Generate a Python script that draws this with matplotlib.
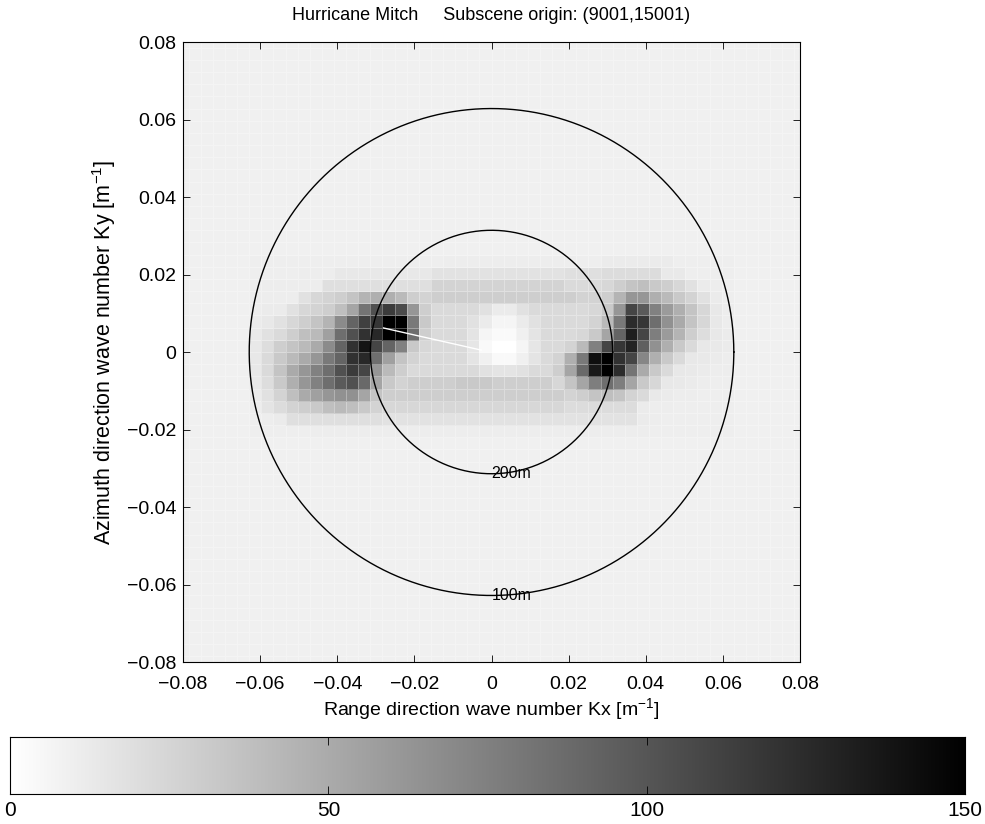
import numpy as np
import matplotlib.pyplot as plt
from matplotlib import ticker

plt.rcParams['font.family'] = ['Liberation Sans', 'DejaVu Sans']
plt.rcParams['mathtext.fontset'] = 'custom'
plt.rcParams['mathtext.rm'] = 'Liberation Sans'
plt.rcParams['mathtext.it'] = 'Liberation Sans'

## DATOS ===================================================

dk = 2 * np.pi / 2000          # paso del numero de onda [1/m]
cell_idx = np.arange(-26, 26)  # indice de celda (esquina inferior izquierda)
fondo = 9                      # nivel de fondo del espectro

# parche central: filas r = 7 .. -8 (de arriba a abajo), columnas c = -20 .. 19
patch_cols = np.arange(-20, 20)
patch_rows = np.arange(7, -9, -1)
patch = [
    [10]*16 + [11]*11 + [10]*2 + [12]*6 + [10]*5,
    [10]*4 + [11]*3 + [14]*7 + [14]*1 + [17]*11 + [19]*3 + [21]*5 + [13]*2 + [10]*4,
    [11]*6 + [19]*9 + [26]*11 + [22]*3 + [24, 29, 35, 38, 32, 29, 24, 18, 12, 11, 10],
    [11]*4 + [18, 24, 26, 29, 35, 44, 47, 47, 41, 29, 26] + [29]*12 + [26, 26, 29, 44, 62, 62, 47, 41, 32, 26, 18, 12, 10],
    [11, 12, 12, 18, 24, 26, 29, 38, 53, 82, 103, 115, 106, 62, 29, 22, 22, 22, 22, 18,
     12, 12, 18, 22, 22, 22, 22, 22, 24, 32, 62, 109, 97, 74, 59, 47, 35, 24, 14, 11],
    [12, 14, 18, 24, 29, 35, 44, 68, 91, 112, 118, 155, 150, 79, 32, 22, 22, 22, 18, 12,
     6, 6, 12, 18, 22, 22, 22, 22, 26, 41, 79, 124, 118, 85, 65, 50, 35, 24, 14, 11],
    [13, 18, 22, 29, 38, 41, 56, 85, 103, 121, 126, 150, 155, 85, 29, 22, 22, 22, 16, 6,
     3, 3, 9, 16, 22, 22, 22, 24, 32, 53, 91, 132, 109, 76, 59, 44, 29, 20, 14, 12],
    [14, 20, 29, 35, 41, 50, 68, 91, 121, 138, 109, 91, 74, 32, 24, 22, 22, 22, 15, 4,
     0, 0, 6, 15, 22, 22, 26, 41, 74, 109, 118, 129, 94, 65, 47, 32, 22, 14, 13, 12],
    [14, 22, 32, 41, 50, 62, 79, 91, 121, 126, 85, 56, 35, 26, 22, 22, 22, 22, 16, 9,
     4, 4, 9, 16, 22, 26, 47, 79, 141, 155, 121, 109, 71, 47, 32, 22, 14, 13, 12, 11],
    [14, 22, 35, 50, 62, 74, 85, 103, 115, 109, 62, 41, 29, 22, 22, 22, 22, 22, 22, 18,
     16, 16, 18, 22, 22, 29, 53, 88, 135, 155, 124, 82, 50, 32, 22, 14, 13, 12, 11, 11],
    [13, 20, 32, 47, 62, 74, 85, 97, 103, 88, 53, 32, 26, 29, 29, 29, 29, 32, 32, 32,
     29, 29, 29, 29, 29, 24, 35, 53, 76, 85, 76, 53, 32, 24, 14, 13, 12, 11, 10, 10],
    [12, 18, 26, 38, 50, 56, 62, 65, 65, 53, 35, 29] + [29]*14 + [26, 29, 35, 38, 35, 26, 22] + [13, 12, 11, 11, 10, 10, 10],
    [11, 16, 21, 26, 29, 32, 38, 41, 38, 32, 26] + [24]*15 + [21]*6 + [12, 11, 11, 10, 10, 10, 10, 10],
    [10, 11, 12] + [19]*8 + [17]*21 + [12, 11, 10, 10, 10, 10, 10, 10],
    [10]*5 + [11]*28 + [10]*7,
    [9]*40,
]

# direccion del pico (linea blanca)
dir_x = [-0.0280, -0.0027]
dir_y = [0.0062, 0.0005]

# longitudes de onda de los circulos [m]
lambdas = [100, 200]
circ_labels = ["100m", "200m"]

## ARMADO DE LA GRILLA ======================================

espectro = np.full((len(cell_idx), len(cell_idx)), float(fondo))
for i, r in enumerate(patch_rows):
    for j, c in enumerate(patch_cols):
        espectro[r + 26, c + 26] = patch[i][j]

bordes = np.append(cell_idx, cell_idx[-1] + 1) * dk

## GRAFICO ==================================================

fig = plt.figure(figsize=(9.85, 8.24), dpi=100)
ax = fig.add_axes([0.1858, 0.1966, 0.6264, 0.7524])

ax.pcolormesh(bordes, bordes, espectro, cmap="gray_r", vmin=0, vmax=150,
              edgecolors=(1, 1, 1, 0.3), linewidth=0.4, shading="flat")

t = np.linspace(0, 2 * np.pi, 400)
for lam, lab in zip(lambdas, circ_labels):
    k = 2 * np.pi / lam
    ax.plot(k * np.cos(t), k * np.sin(t), color="black", linewidth=1.0)
    ax.text(0, -k, lab, ha="left", va="center", fontsize=11.5)

ax.plot(dir_x, dir_y, color="white", linewidth=1.0)

ax.set_xlim(-0.08, 0.08)
ax.set_ylim(-0.08, 0.08)
ticks = [-0.08, -0.06, -0.04, -0.02, 0, 0.02, 0.04, 0.06, 0.08]
fmt = ticker.FuncFormatter(lambda v, p: f"{v:g}".replace("-", "\u2212"))
ax.set_xticks(ticks)
ax.set_yticks(ticks)
ax.xaxis.set_major_formatter(fmt)
ax.yaxis.set_major_formatter(fmt)
ax.tick_params(direction="in", top=True, right=True, length=5, width=0.6,
               labelsize=14)
ax.tick_params(axis="x", pad=10)
ax.tick_params(axis="y", pad=5)
for s in ax.spines.values():
    s.set_linewidth(0.8)

ax.set_title("Hurricane Mitch     Subscene origin: (9001,15001)", fontsize=13, pad=16)
ax.set_xlabel("Range direction wave number Kx [m$^{-1}$]", fontsize=14, labelpad=2)
ax.set_ylabel("Azimuth direction wave number Ky [m$^{-1}$]", fontsize=15.5, labelpad=6)

## BARRA DE COLORES =========================================

cax = fig.add_axes([0.0102, 0.0364, 0.9695, 0.0692])
gradiente = np.linspace(0, 150, 256)
cax.pcolormesh(gradiente, [0, 1], gradiente[:-1].reshape(1, -1),
               cmap="gray_r", vmin=0, vmax=150)
cax.set_xlim(0, 150)
cax.set_ylim(0, 1)
cax.set_yticks([])
cax.set_xticks([0, 50, 100, 150])
cax.tick_params(direction="in", top=True, length=6, width=0.6, labelsize=15, pad=5)
for s in cax.spines.values():
    s.set_linewidth(0.8)

plt.savefig("out.png", dpi=100)
